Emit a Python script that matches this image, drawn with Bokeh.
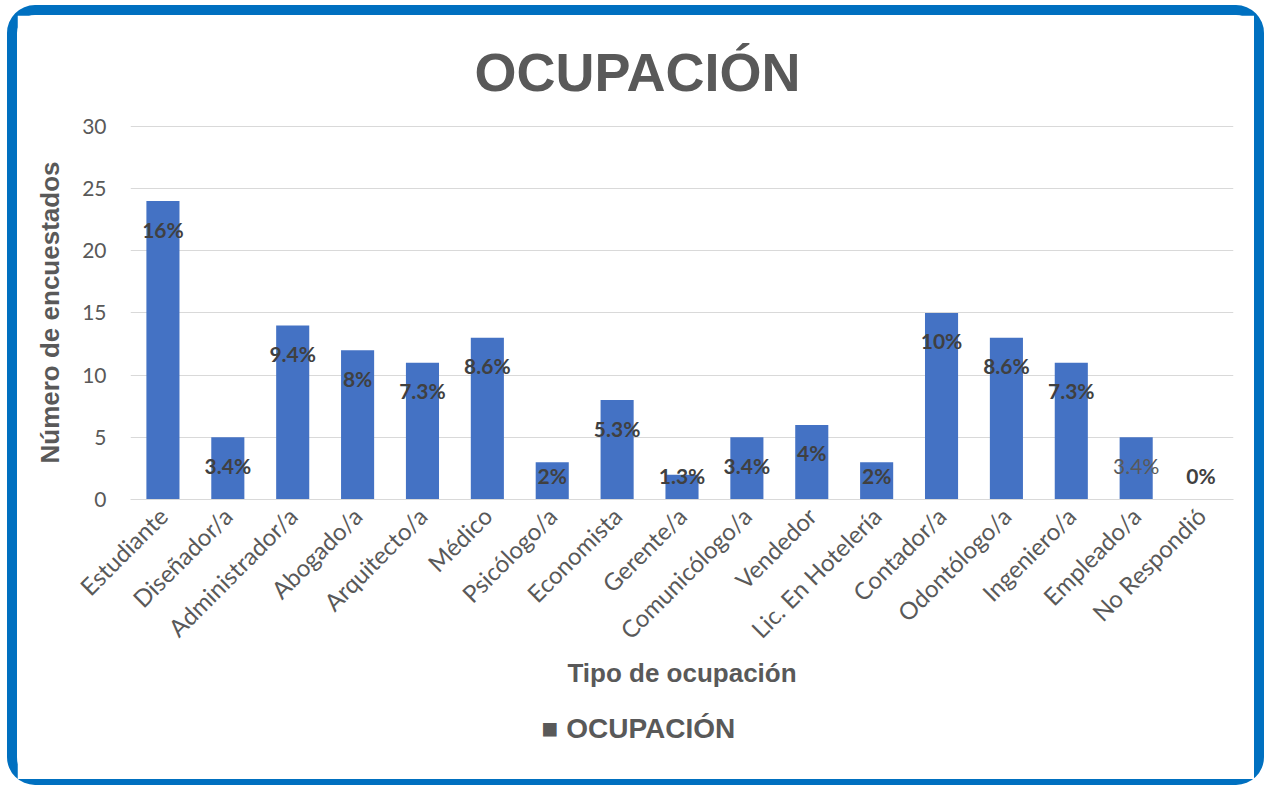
from math import pi
from bokeh.plotting import figure
from bokeh.models import ColumnDataSource, Range1d, SingleIntervalTicker, Title
from bokeh.core.properties import value
from bokeh.embed import file_html
from bokeh.resources import INLINE

categories = ["Estudiante", "Diseñador/a", "Administrador/a", "Abogado/a", "Arquitecto/a",
              "Médico", "Psicólogo/a", "Economista", "Gerente/a", "Comunicólogo/a",
              "Vendedor", "Lic. En Hotelería", "Contador/a", "Odontólogo/a", "Ingeniero/a",
              "Empleado/a", "No Respondió"]
counts = [24, 5, 14, 12, 11, 13, 3, 8, 2, 5, 6, 3, 15, 13, 11, 5, 0]
pct_labels = ["16%", "3.4%", "9.4%", "8%", "7.3%", "8.6%", "2%", "5.3%", "1.3%", "3.4%",
              "4%", "2%", "10%", "8.6%", "7.3%", "3.4%", "0%"]
label_styles = ["bold"] * 15 + ["normal", "bold"]
label_colors = ["#404040"] * 15 + ["#595959", "#404040"]
series_name = "OCUPACIÓN"

# label placement: inside end of bar, kept above the baseline
inside_offset = 2.25
min_label_y = 1.92
label_y = [max(v - inside_offset, min_label_y) for v in counts]

src = ColumnDataSource(dict(cat=categories, val=counts))
lab = ColumnDataSource(dict(cat=categories, y=label_y, text=pct_labels,
                            style=label_styles, color=label_colors))

p = figure(x_range=categories, y_range=Range1d(0, 30.08),
           frame_width=1103, frame_height=374,
           output_backend="svg", toolbar_location=None,
           min_border_left=113, min_border_right=21, min_border_top=110, min_border_bottom=280)
p.styles = {"margin-left": "7px", "margin-top": "5px",
            "border": "10px solid #0070C0", "border-bottom-width": "6px",
            "border-radius": "28px"}
p.outline_line_color = None
p.background_fill_color = "white"
p.border_fill_color = "white"

bars = p.vbar(x="cat", top="val", width=0.51, source=src, fill_color="#4472C4", line_color=None)
p.text(x="cat", y="y", text="text", source=lab, text_align="center", text_baseline="middle",
       text_font=value("Lato"), text_font_size=value("21px"), text_font_style="style",
       text_color="color")

p.title.text = "OCUPACIÓN"
p.title.align = "left"
p.title.offset = 344
p.title.text_font = "Liberation Sans"
p.title.text_font_size = "54px"
p.title.text_font_style = "bold"
p.title.text_color = "#595959"
p.title.standoff = 48

p.xgrid.grid_line_color = None
p.ygrid.grid_line_color = "#D9D9D9"
p.ygrid.grid_line_width = 1

p.yaxis.ticker = SingleIntervalTicker(interval=5)
p.yaxis.axis_line_color = None
p.yaxis.major_tick_line_color = None
p.yaxis.minor_tick_line_color = None
p.yaxis.major_tick_out = 0
p.yaxis.major_tick_in = 0
p.yaxis.major_label_standoff = 20
p.yaxis.major_label_text_font = "Lato"
p.yaxis.major_label_text_font_size = "21px"
p.yaxis.major_label_text_color = "#595959"
p.yaxis.axis_label = "Número de encuestados"
p.yaxis.axis_label_text_font = "Liberation Sans"
p.yaxis.axis_label_text_font_size = "26px"
p.yaxis.axis_label_text_font_style = "bold"
p.yaxis.axis_label_text_color = "#595959"
p.yaxis.axis_label_standoff = 14

p.xaxis.axis_line_color = "#D9D9D9"
p.xaxis.major_tick_line_color = None
p.xaxis.major_tick_out = 0
p.xaxis.major_tick_in = 0
p.xaxis.major_label_orientation = pi / 4
p.xaxis.major_label_standoff = 12
p.xaxis.major_label_text_font = "Lato"
p.xaxis.major_label_text_font_size = "24px"
p.xaxis.major_label_text_color = "#595959"
p.xaxis.axis_label = "Tipo de ocupación"
p.xaxis.axis_label_text_font = "Liberation Sans"
p.xaxis.axis_label_text_font_size = "26px"
p.xaxis.axis_label_text_font_style = "bold"
p.xaxis.axis_label_text_color = "#595959"
p.xaxis.axis_label_standoff = 0

# series key under the axis title
key = Title(text="■ " + series_name, align="left", offset=411, standoff=40,
            text_font="Liberation Sans", text_font_size="28px", text_font_style="bold",
            text_color="#595959")
p.add_layout(key, "below")

open("out.html", "w").write(file_html(p, INLINE))
